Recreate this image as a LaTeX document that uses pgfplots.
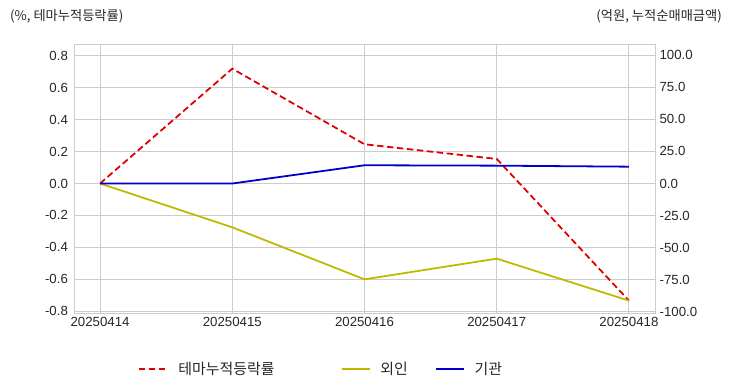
\documentclass[border=0pt]{standalone}
\usepackage{fontspec}
\setmainfont{Liberation Sans}
\newfontfamily\kr{Noto Sans CJK KR}
\usepackage{pgfplots}
\pgfplotsset{compat=1.18}
\usetikzlibrary{calc}
\definecolor{gridc}{HTML}{CCCCCC}
\definecolor{myred}{HTML}{E00000}
\definecolor{myyel}{HTML}{BFBA00}
\definecolor{myblue}{HTML}{0000CC}
\definecolor{txt}{HTML}{262626}
\begin{document}
\fontsize{13.3}{15}\selectfont
\begin{tikzpicture}
\pgfplotsset{
 base/.style={set layers=standard, scale only axis, width=581bp, height=269bp,
  xmin=-0.197, xmax=4.197, major tick length=0pt,
  tick label style={font=\fontsize{13.3}{15}\selectfont, text=txt},
  /pgf/number format/assume math mode=true,
  grid style={gridc, line width=1pt},
  axis line style={gridc, line width=1pt}}
}
\begin{axis}[base, name=L,
  ymin=-0.8125, ymax=0.875,
  ytick={-0.8,-0.6,-0.4,-0.2,0,0.2,0.4,0.6,0.8},
  yticklabel style={xshift=-1.5bp, /pgf/number format/.cd, fixed, fixed zerofill, precision=1},
  xtick={0,1,2,3,4},
  xticklabels={20250414,20250415,20250416,20250417,20250418},
  grid=major]
\addplot[myred, line width=1.8pt, dash pattern=on 6.5bp off 3.5bp] coordinates {(0,0)(1,0.72)(2,0.246)(3,0.154)(4,-0.735)};
\end{axis}
\begin{axis}[base, name=R, axis x line=none, axis y line*=right,
  ymin=-100.8, ymax=108.6,
  ytick={-100,-75,-50,-25,0,25,50,75,100},
  yticklabel style={/pgf/number format/.cd, fixed, fixed zerofill, precision=1},
  ymajorgrids,
  legend columns=3,
  legend style={at={(0.425,-0.208)}, anchor=center, draw=none, fill=none,
    font=\fontsize{15}{17}\selectfont, text=txt,
    /tikz/column 1/.style={column sep=9bp},
    /tikz/column 2/.style={column sep=64bp},
    /tikz/column 3/.style={column sep=8bp},
    /tikz/column 4/.style={column sep=25bp},
    /tikz/column 5/.style={column sep=8bp}},
  legend image code/.code={\draw[#1] (0bp,0bp) -- (28bp,0bp);}]
\addlegendimage{myred, line width=1.8pt, dash pattern=on 6bp off 4bp}
\addlegendentry{\kr 테마누적등락률}
\addplot[myyel, line width=1.8pt] coordinates {(0,0)(1,-34.1)(2,-74.6)(3,-58.5)(4,-91.2)};
\addlegendentry{\kr 외인}
\addplot[myblue, line width=1.8pt] coordinates {(0,0)(1,0)(2,14.2)(3,13.9)(4,13.1)};
\addlegendentry{\kr 기관}
\end{axis}
\node[anchor=west, text=txt, inner sep=0pt] at ($(L.north west)+(-64bp,28bp)$) {\kr (\%, 테마누적등락률)};
\node[anchor=east, text=txt, inner sep=0pt] at ($(L.north east)+(67bp,28bp)$) {\kr (억원, 누적순매매금액)};
\pgfresetboundingbox
\path ($(L.south west)+(-74bp,-79bp)$) rectangle ($(L.north east)+(77bp,44bp)$);
\end{tikzpicture}
\end{document}
